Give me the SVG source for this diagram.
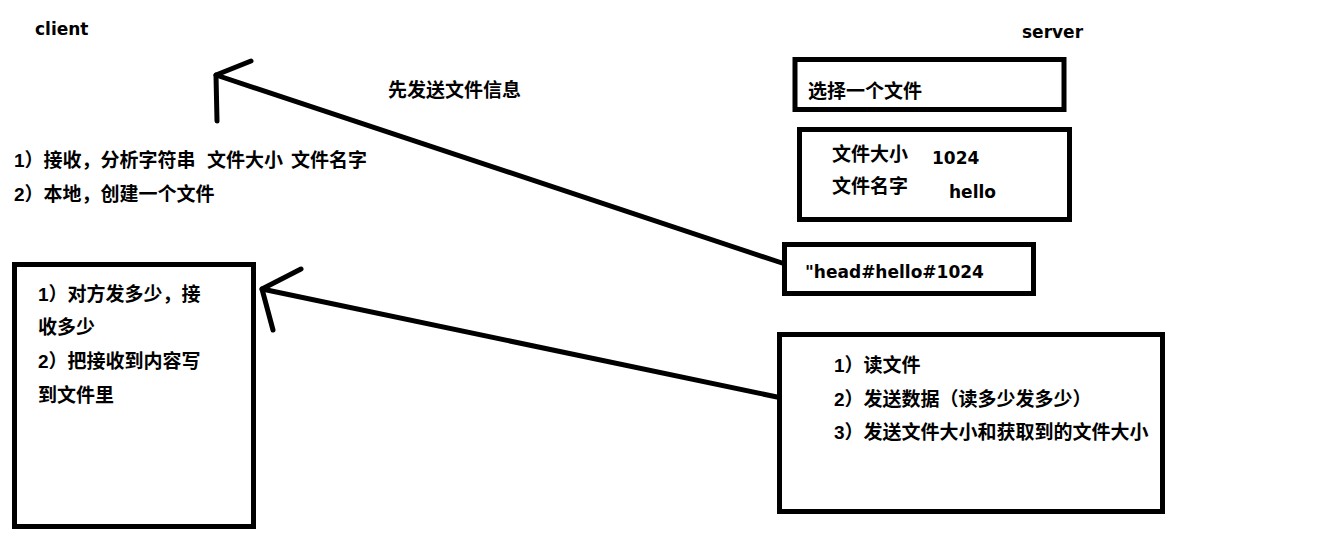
<svg xmlns="http://www.w3.org/2000/svg" width="1332" height="533" viewBox="0 0 1332 533">
<style>
text{font-family:"Liberation Sans","Noto Sans CJK SC",sans-serif;font-weight:bold;font-size:19px;fill:#000}
text.lat{font-family:"DejaVu Sans",sans-serif;font-size:17px}
.box{fill:none;stroke:#000;stroke-width:5}
.ln{fill:none;stroke:#000;stroke-width:5;stroke-linecap:round;stroke-linejoin:round}
</style>
<rect width="1332" height="533" fill="#fff"/>
<g id="client-label"><text class="lat" x="35" y="35">client</text></g>
<g id="server-label"><text class="lat" x="1022" y="38">server</text></g>
<g id="send-info-label"><text x="388" y="97">先发送文件信息</text></g>
<g id="client-steps">
<text x="14" y="167">1）接收，分析字符串</text>
<text x="207" y="167">文件大小</text>
<text x="291" y="167">文件名字</text>
<text x="14" y="201">2）本地，创建一个文件</text>
</g>
<g id="select-file"><rect class="box" x="795" y="59.5" width="269" height="50"/><text x="808" y="98">选择一个文件</text></g>
<g id="file-info"><rect class="box" x="799.5" y="129.5" width="270" height="90"/>
<text x="832" y="161">文件大小</text><text class="lat" x="932" y="164">1024</text>
<text x="832" y="193">文件名字</text><text class="lat" x="949" y="198">hello</text></g>
<g id="head-msg"><rect class="box" x="784.5" y="244.5" width="249" height="49"/><text class="lat" x="805" y="278">"head#hello#1024</text></g>
<g id="client-recv"><rect class="box" x="14.5" y="264.5" width="239" height="262"/>
<text x="38" y="301">1）对方发多少，接</text>
<text x="38" y="334">收多少</text>
<text x="38" y="368">2）把接收到内容写</text>
<text x="38" y="402">到文件里</text></g>
<g id="server-send"><rect class="box" x="779.5" y="334.5" width="383" height="177"/>
<text x="834" y="372">1）读文件</text>
<text x="834" y="406">2）发送数据（读多少发多少）</text>
<text x="834" y="439">3）发送文件大小和获取到的文件大小</text></g>
<g id="connectors">
<line class="ln" x1="782" y1="263" x2="216" y2="75"/>
<polyline class="ln" points="251,61 216,75 217,121"/>
<line class="ln" x1="777" y1="397" x2="262" y2="289"/>
<polyline class="ln" points="301,269 262,289 273,330"/>
</g>
</svg>
